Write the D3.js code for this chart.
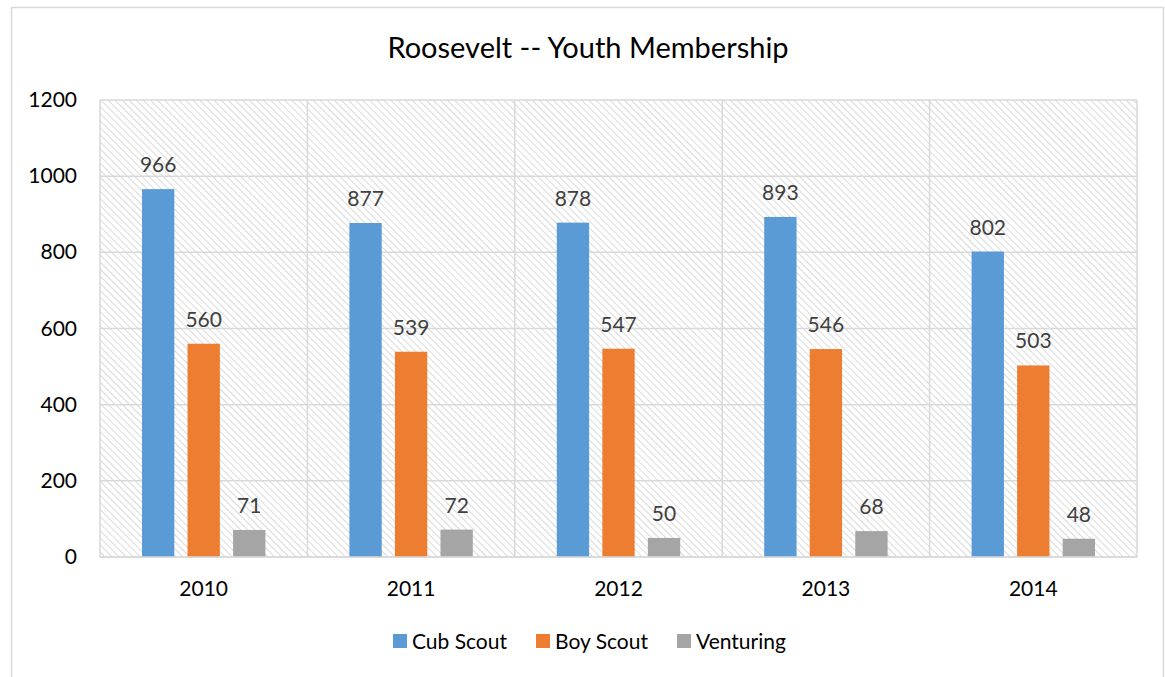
<!DOCTYPE html>
<html>
<head>
<meta charset="utf-8">
<script src="https://cdn.jsdelivr.net/npm/d3@7"></script>
<style>
  body { margin: 0; background: #fff; }
  text { font-family: Lato, "Noto Sans", sans-serif; }
</style>
</head>
<body>
<div id="chart"></div>
<script>
var w = 1165;
var h = 677;

var years = ["2010", "2011", "2012", "2013", "2014"];
var seriesNames = ["Cub Scout", "Boy Scout", "Venturing"];
var cubScout = [966, 877, 878, 893, 802];
var boyScout = [560, 539, 547, 546, 503];
var venturing = [71, 72, 50, 68, 48];
var colors = ["#5b9bd5", "#ed7d31", "#a5a5a5"];
var yTicks = [0, 200, 400, 600, 800, 1000, 1200];

var allSeries = [cubScout, boyScout, venturing];

var plotLeft = 100, plotRight = 1137, plotTop = 100, plotBottom = 557;

var svg = d3.select("#chart").append("svg").attr("width", w).attr("height", h);

// hatch pattern for plot background
var defs = svg.append("defs");
var pat = defs.append("pattern")
  .attr("id", "hatch")
  .attr("patternUnits", "userSpaceOnUse")
  .attr("width", 5)
  .attr("height", 5)
  .attr("patternTransform", "rotate(-45)");
pat.append("rect").attr("width", 5).attr("height", 5).attr("fill", "#fff");
pat.append("line")
  .attr("x1", 0).attr("y1", 0).attr("x2", 0).attr("y2", 5)
  .attr("stroke", "#d4d4d4").attr("stroke-width", 1.7);

// outer border (bottom edge runs off the page)
svg.append("rect")
  .attr("x", 11.5).attr("y", 7.5)
  .attr("width", 1152).attr("height", 700)
  .attr("fill", "none").attr("stroke", "#d9d9d9").attr("stroke-width", 1.5);

var x0 = d3.scaleBand().domain(years).range([plotLeft, plotRight]).padding(0);
var x1 = d3.scaleBand().domain(seriesNames).range([42, x0.bandwidth() - 42]).paddingInner(0.29);
var y = d3.scaleLinear().domain([0, 1200]).range([plotBottom, plotTop]);

svg.append("rect")
  .attr("x", plotLeft).attr("y", plotTop)
  .attr("width", plotRight - plotLeft).attr("height", plotBottom - plotTop)
  .attr("fill", "url(#hatch)");

// gridlines
svg.append("g").selectAll("line")
  .data(yTicks)
  .enter().append("line")
  .attr("x1", plotLeft).attr("x2", plotRight)
  .attr("y1", d => y(d)).attr("y2", d => y(d))
  .attr("stroke", "#d9d9d9").attr("stroke-width", 1.5);

svg.append("g").selectAll("line")
  .data(years.concat(["end"]))
  .enter().append("line")
  .attr("x1", (d, i) => i < years.length ? x0(d) : plotRight)
  .attr("x2", (d, i) => i < years.length ? x0(d) : plotRight)
  .attr("y1", plotTop).attr("y2", plotBottom)
  .attr("stroke", "#d9d9d9").attr("stroke-width", 1.5);

// bars
var groups = svg.append("g").selectAll("g")
  .data(years)
  .enter().append("g")
  .attr("transform", d => "translate(" + x0(d) + ",0)");

groups.selectAll("rect")
  .data((d, i) => seriesNames.map((s, j) => ({ s: s, v: allSeries[j][i], c: colors[j] })))
  .enter().append("rect")
  .attr("x", d => x1(d.s))
  .attr("y", d => y(d.v))
  .attr("width", x1.bandwidth())
  .attr("height", d => plotBottom - y(d.v))
  .attr("fill", d => d.c);

groups.selectAll("text")
  .data((d, i) => seriesNames.map((s, j) => ({ s: s, v: allSeries[j][i] })))
  .enter().append("text")
  .attr("x", d => x1(d.s) + x1.bandwidth() / 2)
  .attr("y", d => y(d.v) - 17)
  .attr("text-anchor", "middle")
  .attr("font-size", "21px")
  .attr("fill", "#404040")
  .text(d => d.v);

// bottom axis line
svg.append("line")
  .attr("x1", plotLeft).attr("x2", plotRight)
  .attr("y1", plotBottom).attr("y2", plotBottom)
  .attr("stroke", "#d9d9d9").attr("stroke-width", 1.5);

// y tick labels
svg.append("g").selectAll("text")
  .data(yTicks)
  .enter().append("text")
  .attr("x", 77)
  .attr("y", d => y(d) + 7)
  .attr("text-anchor", "end")
  .attr("font-size", "21px")
  .attr("fill", "#000")
  .text(d => d);

// x labels
svg.append("g").selectAll("text")
  .data(years)
  .enter().append("text")
  .attr("x", d => x0(d) + x0.bandwidth() / 2)
  .attr("y", 596)
  .attr("text-anchor", "middle")
  .attr("font-size", "21px")
  .attr("fill", "#000")
  .text(d => d);

// title
svg.append("text")
  .attr("x", 588).attr("y", 58)
  .attr("text-anchor", "middle")
  .attr("font-size", "29px")
  .attr("fill", "#000")
  .text("Roosevelt -- Youth Membership");

// legend
var legendX = [393, 536, 677];
var leg = svg.append("g").selectAll("g")
  .data(seriesNames)
  .enter().append("g")
  .attr("transform", (d, i) => "translate(" + legendX[i] + ",634)");
leg.append("rect").attr("width", 14).attr("height", 14).attr("fill", (d, i) => colors[i]);
leg.append("text")
  .attr("x", 19).attr("y", 15)
  .attr("font-size", "21px")
  .attr("fill", "#000")
  .text(d => d);
</script>
</body>
</html>
